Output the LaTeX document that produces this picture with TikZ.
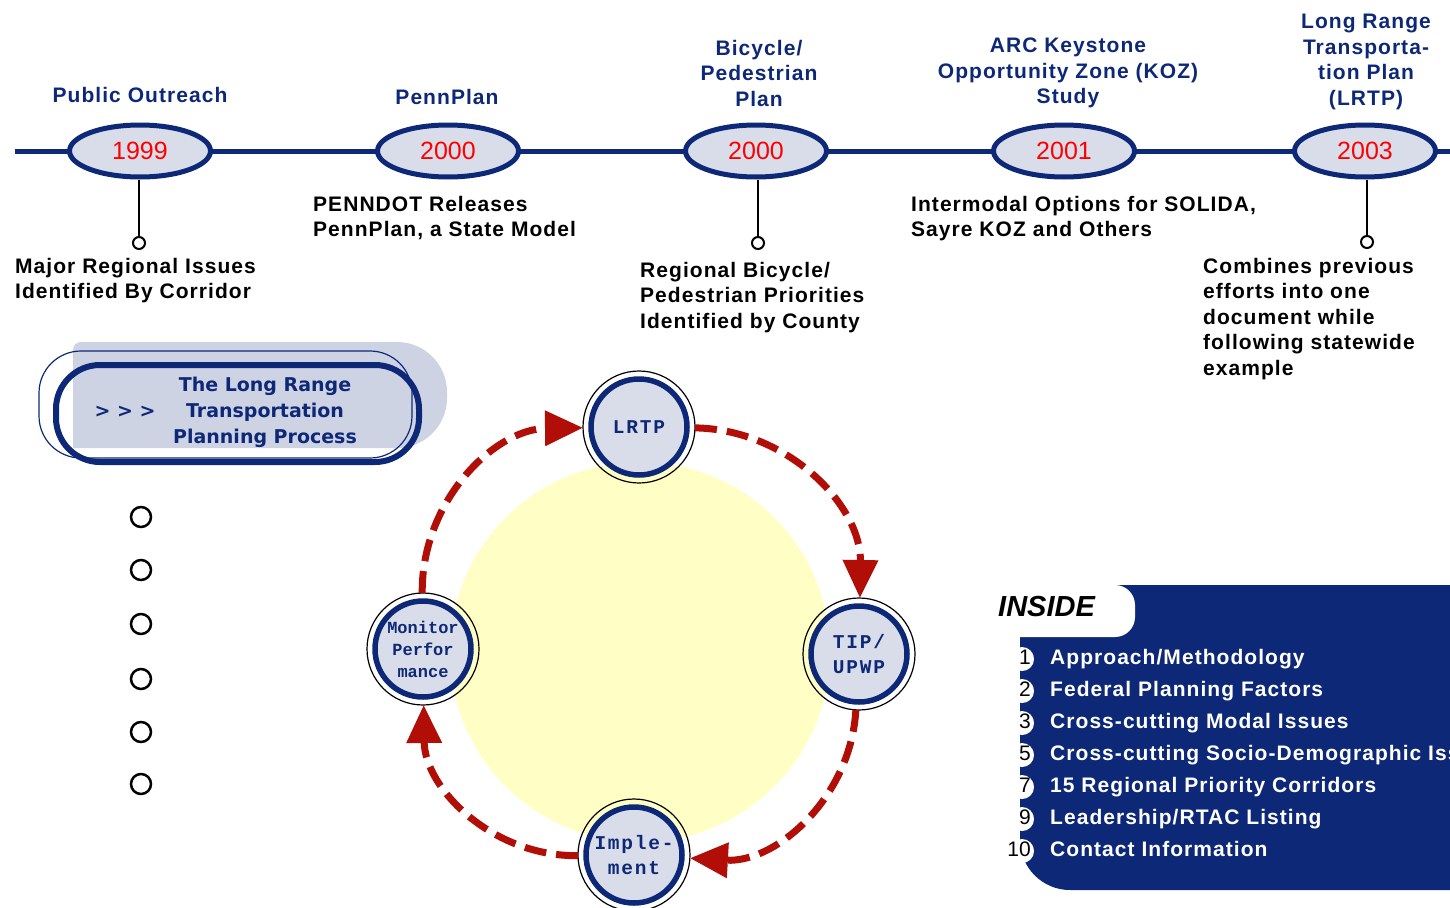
\documentclass[tikz,border=0pt]{standalone}
\usepackage{fontspec}
\setmainfont{Liberation Sans}
\newfontfamily\labelfont[LetterSpace=5]{Liberation Sans}
\newfontfamily\stagefont[LetterSpace=9]{Liberation Mono}
\newfontfamily\stagefontnarrow{Liberation Mono}
\newfontfamily\techfont{DejaVu Sans}
\usepackage{tikz}
\usetikzlibrary{arrows.meta,shapes.geometric,positioning}
\definecolor{navy}{RGB}{14,40,120}
\definecolor{paleblue}{RGB}{217,221,234}
\definecolor{boxgray}{RGB}{206,211,228}
\definecolor{sunny}{RGB}{255,255,197}
\definecolor{arrowred}{RGB}{178,14,8}
\definecolor{yearred}{RGB}{255,0,0}
\tikzset{
  year/.style={ellipse, draw=navy, line width=5pt, fill=paleblue,
    minimum width=141pt, minimum height=52pt, inner sep=0pt,
    text=yearred, font=\fontsize{25}{30}\selectfont},
  toplabel/.style={anchor=north, align=center, inner sep=0pt, text=navy,
    font=\labelfont\bfseries\fontsize{21}{25.5}\selectfont},
  note/.style={anchor=north west, align=left, inner sep=0pt,
    font=\labelfont\bfseries\fontsize{21}{25.5}\selectfont},
  knob/.style={circle, draw, line width=2pt, fill=white, minimum size=12pt, inner sep=0pt},
  stem/.style={line width=2pt},
  bullet/.style={circle, draw, line width=2.5pt, minimum size=20pt, inner sep=0pt},
  stage/.style={circle, draw=navy, line width=5.5pt, fill=paleblue,
    minimum size=96pt, inner sep=0pt, outer sep=8pt, align=center, text=navy,
    font=\stagefont\bfseries\fontsize{19.5}{25}\selectfont},
  ring/.style={line width=1.2pt},
  cyclearrow/.style={draw=arrowred, line width=7pt, dash pattern=on 22pt off 10pt,
    -{Triangle[length=38pt,width=34pt]}},
  tocitem/.style={anchor=west, inner sep=0pt, text=white, text height=15pt, text depth=4pt,
    font=\labelfont\bfseries\fontsize{21}{25}\selectfont},
  tocnum/.style={anchor=east, inner sep=0pt, text height=15pt, text depth=4pt,
    font=\fontsize{21}{25}\selectfont},
}
\begin{document}
\begin{tikzpicture}[x=1pt, y=-1pt, line cap=butt]
  \useasboundingbox (0,0) rectangle (1450,907);
  \clip (0,0) rectangle (1450,907);

  % timeline
  \coordinate (tl-start) at (15,151);
  \coordinate (tl-end) at (1452,151);
  \draw[navy, line width=5pt] (tl-start) -- (tl-end);
  \node[year] (y1999) at (140,151) {1999};
  \node[year] (y2000a) at (448,151) {2000};
  \node[year] (y2000b) at (756,151) {2000};
  \node[year] (y2001) at (1064,151) {2001};
  \node[year] (y2003) at (1365,151) {2003};

  \node[toplabel] (t1999) at (140,87) {Public Outreach};
  \node[toplabel] (t2000a) at (447,89) {PennPlan};
  \node[toplabel] (t2000b) at (759,40) {Bicycle/\\Pedestrian\\Plan};
  \node[toplabel] (t2001) at (1068,38) {ARC Keystone\\Opportunity Zone (KOZ)\\Study};
  \node[toplabel] (t2003) at (1366,14) {Long Range\\Transporta-\\tion Plan\\(LRTP)};

  \node[knob] (k1999) at (139,243) {};
  \node[knob] (k2000) at (758,243) {};
  \node[knob] (k2003) at (1367,242) {};
  \draw[stem] (y1999.south -| k1999) -- (k1999);
  \draw[stem] (y2000b.south -| k2000) -- (k2000);
  \draw[stem] (y2003.south -| k2003) -- (k2003);

  \node[note] (n1999) at (15,258) {Major Regional Issues\\Identified By Corridor};
  \node[note] (n2000a) at (313,196) {PENNDOT Releases\\PennPlan, a State Model};
  \node[note] (n2000b) at (640,262) {Regional Bicycle/\\Pedestrian Priorities\\Identified by County};
  \node[note] (n2001) at (911,196) {Intermodal Options for SOLIDA,\\Sayre KOZ and Others};
  \node[note] (n2003) at (1203,258) {Combines previous\\efforts into one\\document while\\following statewide\\example};

  % title box
  \fill[boxgray] (73,448) -- (73,350) arc(180:270:8) -- (397,342) arc(270:360:50)
    -- (447,398) arc(0:90:50) -- cycle;
  \draw[navy, line width=1.2pt, rounded corners=42pt] (39,351) rectangle (412,458);
  \draw[navy, line width=6pt, rounded corners=44pt] (56,365) rectangle (419,462);
  \node[text=navy, align=center, font=\techfont\bfseries\fontsize{19}{26}\selectfont]
    (title) at (265,412) {The Long Range\\Transportation\\Planning Process};
  \node[text=navy, font=\techfont\bfseries\fontsize{19}{26}\selectfont]
    (chev) at (125,412) {> > >};

  \foreach \y [count=\i] in {517,570,624,679,732,784}
    \node[bullet] (b\i) at (141,\y) {};

  % planning cycle
  \fill[sunny] (640,652) circle (190);
  \node[stage] (lrtp) at (639,427) {LRTP};
  \node[stage] (tip) at (859,654) {TIP/\\UPWP};
  \node[stage] (impl) at (634,855) {Imple-\\ment};
  \node[stage, font=\stagefontnarrow\bfseries\fontsize{17}{22}\selectfont] (mon) at (423,649) {Monitor\\Perfor\\mance};
  \foreach \n in {lrtp,tip,impl,mon}
    \draw[ring] (\n.center) circle (56);
  \draw[cyclearrow] (mon) to[bend left=45] (lrtp);
  \draw[cyclearrow] (lrtp) to[bend left=45] (tip);
  \draw[cyclearrow] (tip) to[bend left=45] (impl);
  \draw[cyclearrow] (impl) to[bend left=45] (mon);

  % inside panel
  \fill[navy] (1020,585) -- (1452,585) -- (1452,890) -- (1070,890) arc(90:180:50) -- cycle;
  \fill[white, rounded corners=20pt] (975,585) rectangle (1135,637);
  \node[anchor=west, inner sep=0pt, font=\bfseries\itshape\fontsize{29}{30}\selectfont]
    (inside) at (998,607) {INSIDE};
  \foreach \p/\t [count=\i] in {1/{Approach/Methodology}, 2/{Federal Planning Factors},
      3/{Cross-cutting Modal Issues}, 5/{Cross-cutting Socio-Demographic Issues},
      7/{15 Regional Priority Corridors}, 9/{Leadership/RTAC Listing},
      10/{Contact Information}} {
    \fill[white] (1022,627+32*\i) circle (12);
    \node[tocnum] (p\i) at (1031,627+32*\i) {\p};
    \node[tocitem] (c\i) at (1050,627+32*\i) {\t};
  }
\end{tikzpicture}
\end{document}
